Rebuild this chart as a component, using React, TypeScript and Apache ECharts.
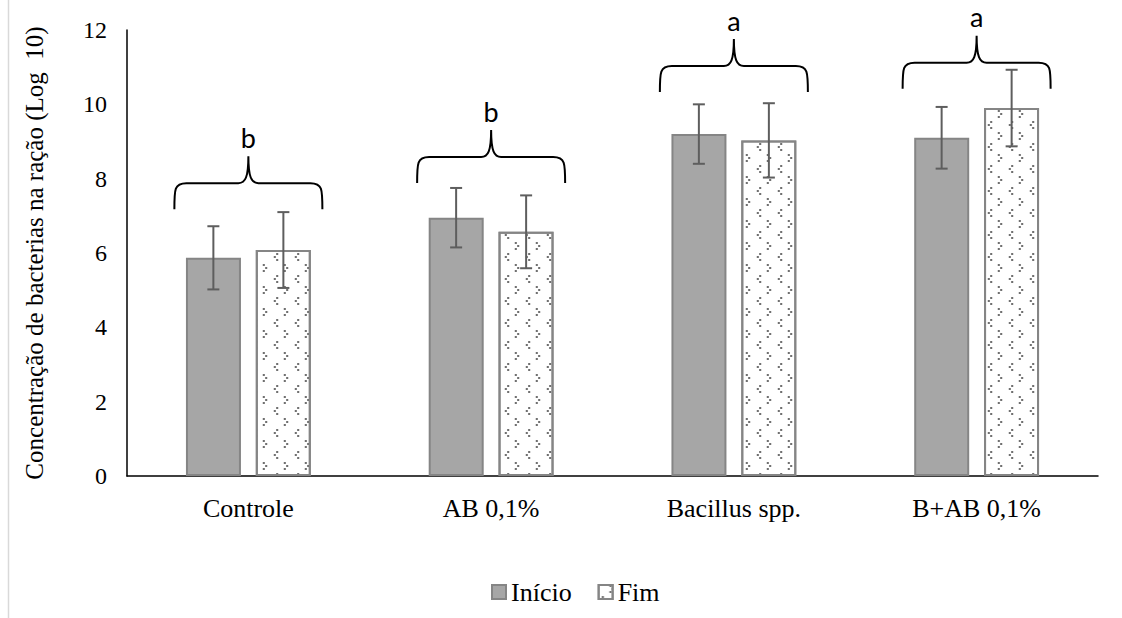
import React, { useEffect, useRef } from 'react';
import * as echarts from 'echarts';

const categories = ['Controle', 'AB 0,1%', 'Bacillus spp.', 'B+AB 0,1%'];
const seriesNames = ['Início', 'Fim'];
const inicioValues = [5.87, 6.95, 9.2, 9.1];
const inicioErrors = [0.85, 0.8, 0.8, 0.83];
const fimValues = [6.08, 6.57, 9.03, 9.9];
const fimErrors = [1.02, 0.98, 1.0, 1.03];
const groupLetters = ['b', 'b', 'a', 'a'];
const braceLevels = [7.88, 8.58, 11.03, 11.12];
const yMin = 0;
const yMax = 12;
const yInterval = 2;
const yAxisTitle = 'Concentração de bacterias na ração (Log  10)';

const SERIF = 'Liberation Serif';
const SANS = 'Lato';
const BAR_W = 55;
const BAR_OFFSET = 35;

function errorSeries(values: number[], errors: number[], side: number) {
  return {
    type: 'custom',
    z: 5,
    silent: true,
    data: categories.map((_, i) => [i, values[i], errors[i]]),
    encode: { x: 0, y: 1 },
    renderItem: (params: any, api: any) => {
      const i = api.value(0);
      const v = api.value(1);
      const e = api.value(2);
      const c = api.coord([i, v]);
      const x = c[0] + side * BAR_OFFSET;
      const top = api.coord([i, v + e])[1];
      const bot = api.coord([i, v - e])[1];
      const st = { stroke: '#5e5e5e', lineWidth: 2 };
      return {
        type: 'group',
        children: [
          { type: 'line', shape: { x1: x, y1: top, x2: x, y2: bot }, style: st },
          { type: 'line', shape: { x1: x - 6, y1: top, x2: x + 6, y2: top }, style: st },
          { type: 'line', shape: { x1: x - 6, y1: bot, x2: x + 6, y2: bot }, style: st },
        ],
      };
    },
  };
}

export default function App() {
  const ref = useRef<HTMLDivElement>(null);
  useEffect(() => {
    document.body.style.margin = '0';
    if (!ref.current) return;
    const chart = echarts.init(ref.current, null, { renderer: 'svg' });
    const option: any = {
      animation: false,
      backgroundColor: '#ffffff',
      textStyle: { fontFamily: SERIF },
      grid: { left: 127, right: 24, top: 30, bottom: 142 },
      legend: {
        left: 486,
        top: 574,
        itemWidth: 14,
        itemHeight: 14,
        itemGap: 26,
        icon: 'rect',
        textStyle: { fontFamily: SERIF, fontSize: 26, color: '#000' },
        data: seriesNames,
      },
      xAxis: {
        type: 'category',
        data: categories,
        axisLine: { show: true, lineStyle: { color: '#000', width: 1.5 } },
        axisTick: { show: false },
        axisLabel: { fontFamily: SERIF, fontSize: 26, color: '#000', margin: 19 },
      },
      yAxis: {
        type: 'value',
        min: yMin,
        max: yMax,
        interval: yInterval,
        name: yAxisTitle,
        nameLocation: 'middle',
        nameGap: 80,
        nameTextStyle: { fontFamily: SERIF, fontSize: 25, color: '#000' },
        axisLine: { show: true, lineStyle: { color: '#000', width: 1.5 } },
        axisTick: { show: false },
        splitLine: { show: false },
        axisLabel: { fontFamily: SERIF, fontSize: 24, color: '#000', margin: 20 },
      },
      graphic: [
        {
          type: 'line',
          shape: { x1: 8.5, y1: 0, x2: 8.5, y2: 618 },
          style: { stroke: '#d9d9d9', lineWidth: 1.5 },
          silent: true,
        },
      ],
      series: [
        {
          name: seriesNames[0],
          type: 'bar',
          barWidth: BAR_W,
          barGap: '27%',
          data: inicioValues,
          itemStyle: { color: '#a6a6a6', borderColor: '#858585', borderWidth: 2 },
        },
        {
          name: seriesNames[1],
          type: 'bar',
          barWidth: BAR_W,
          data: fimValues,
          itemStyle: {
            color: '#ffffff',
            borderColor: '#858585',
            borderWidth: 2,
            decal: {
              symbol: [
                ['path://M3,0h2.6v2.6h-2.6z M0,3.7h2.6v2.6h-2.6z M3,7.4h2.6v2.6h-2.6z'],
                ['path://M0,0h2.6v2.6h-2.6z M3,3.7h2.6v2.6h-2.6z M0,7.4h2.6v2.6h-2.6z'],
              ],
              symbolSize: 1,
              color: '#707070',
              dashArrayX: [
                [6, 15],
                [0, 10, 6, 5],
              ],
              dashArrayY: [8, 3],
              rotation: 0,
            },
          },
        },
        errorSeries(inicioValues, inicioErrors, -1),
        errorSeries(fimValues, fimErrors, 1),
        {
          type: 'custom',
          z: 6,
          silent: true,
          clip: false,
          data: categories.map((_, i) => [i, braceLevels[i]]),
          encode: { x: 0, y: 1 },
          renderItem: (params: any, api: any) => {
            const i = api.value(0);
            const c = api.coord([i, api.value(1)]);
            const xm = c[0];
            const yb = c[1];
            const hw = 74;
            const x0 = xm - hw;
            const x1 = xm + hw;
            const d =
              `M${x0},${yb + 26} C${x0},${yb + 6} ${x0},${yb} ${x0 + 12},${yb} ` +
              `L${xm - 10},${yb} C${xm - 3},${yb} ${xm},${yb - 6} ${xm},${yb - 27} ` +
              `C${xm},${yb - 6} ${xm + 3},${yb} ${xm + 10},${yb} ` +
              `L${x1 - 12},${yb} C${x1},${yb} ${x1},${yb + 6} ${x1},${yb + 26}`;
            return {
              type: 'group',
              children: [
                {
                  type: 'path',
                  shape: { pathData: d },
                  style: { fill: 'none', stroke: '#000', lineWidth: 2 },
                },
                {
                  type: 'text',
                  x: xm,
                  y: yb - 46,
                  style: {
                    text: groupLetters[params.dataIndex],
                    fontFamily: SANS,
                    fontSize: 27,
                    fill: '#000',
                    align: 'center',
                    verticalAlign: 'middle',
                  },
                },
              ],
            };
          },
        },
      ],
    };
    chart.setOption(option);
    return () => chart.dispose();
  }, []);
  return <div ref={ref} style={{ width: 1122, height: 618 }} />;
}
